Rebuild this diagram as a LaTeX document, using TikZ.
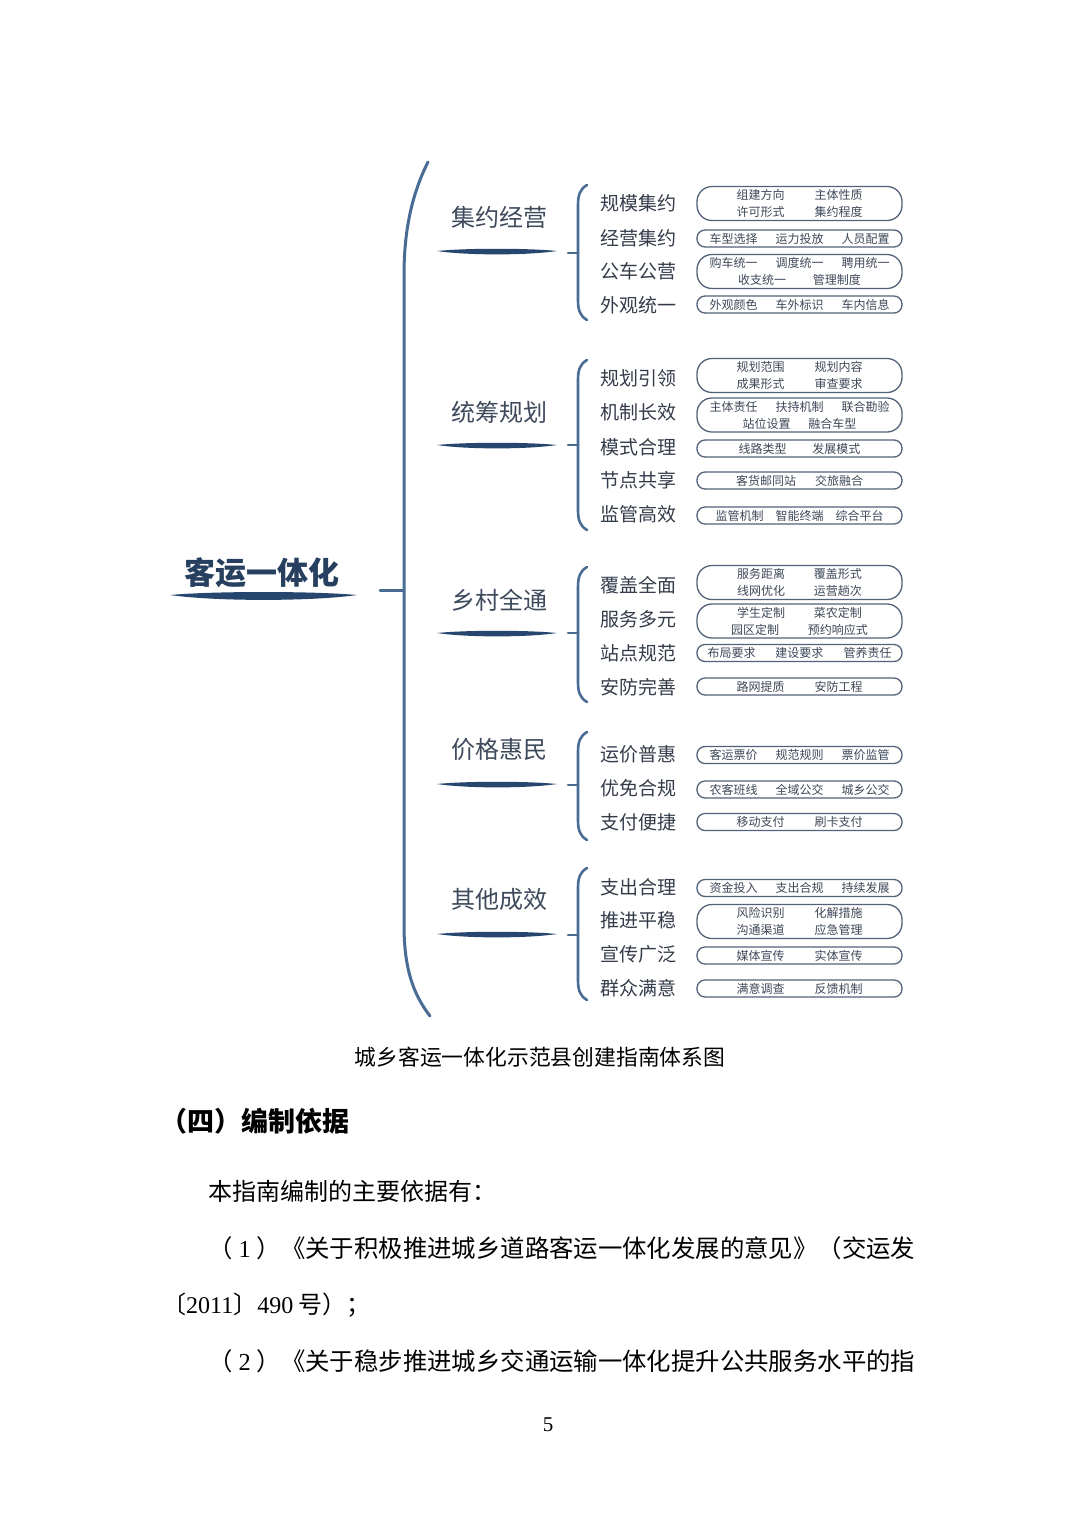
\documentclass[tikz,border=0pt]{standalone}
\usepackage{fontspec}
\setmainfont{Noto Sans CJK SC}
\newfontfamily\lserif{Liberation Serif}
\definecolor{brkc}{RGB}{72,108,148}
\definecolor{lensc}{RGB}{38,70,110}
\definecolor{titlec}{RGB}{40,64,96}
\definecolor{catc}{RGB}{62,74,92}
\definecolor{subc}{RGB}{52,60,74}
\definecolor{pillc}{RGB}{82,98,120}
\definecolor{pilltext}{RGB}{62,72,88}
\newcommand\mylens[3]{\fill[lensc] (#1,#3) .. controls +(30,-3) and +(-30,-3) .. (#2,#3) .. controls +(-30,4.5) and +(30,4.5) .. (#1,#3) -- cycle;}
\newcommand\smallbrk[4]{%
  \draw[brk] (587,#2) .. controls (580,#2+4) and (578,#2+10) .. (578,#2+20) -- (578,#3-20) .. controls (578,#3-10) and (580,#3-4) .. (587,#3);
  \coordinate (#1a) at (568,#4); \coordinate (#1b) at (578,#4);
  \draw[brk] (#1a) -- (#1b);}
\newcommand\pa[3]{\node[pill] (#1) at (799.5,#2) {#3};}
\newcommand\pb[4]{\node[pilltwo] (#1) at (799.5,#2) {#3\\#4};}
\newcommand\dg[1]{\makebox[24pt]{\lserif #1}}
\begin{document}
\begin{tikzpicture}[x=1pt,y=-1pt,
  brk/.style={draw=brkc, line width=2.6pt, line cap=round},
  bigbrk/.style={draw=brkc, line width=3pt, line cap=round},
  pill/.style={draw=pillc, line width=1.3pt, rounded corners=8pt, minimum width=205pt, minimum height=17pt, inner sep=0pt, font=\fontsize{12}{17}\selectfont, text=pilltext, align=center},
  pilltwo/.style={pill, rounded corners=15pt, minimum height=34pt},
  cat/.style={font=\fontsize{24}{24}\selectfont, text=catc, inner sep=0pt},
  sub/.style={font=\fontsize{19}{19}\selectfont, text=subc, inner sep=0pt},
  body/.style={font=\fontsize{24}{24}\selectfont, text=black, inner sep=0pt, anchor=west},
  bodyw/.style={body, font=\fontsize{24.4}{24.4}\selectfont}
]
\useasboundingbox (0,0) rectangle (1080,1527);
\fill[white] (0,0) rectangle (1080,1527);

% root
\node[font=\fontsize{31}{31}\selectfont\bfseries, text=titlec, inner sep=0pt] (root) at (262,573) {客运一体化};
\fill[lensc] (170,595) .. controls +(45,-4) and +(-45,-4) .. (357,595) .. controls +(-45,6.5) and +(45,6.5) .. (170,595) -- cycle;
\coordinate (r0) at (380,590);
\coordinate (r1) at (404,590);
\draw[bigbrk] (r0) -- (r1);
\draw[bigbrk] (428,162) .. controls (414,190) and (404,225) .. (404,275) -- (404,925) .. controls (404,968) and (413,994) .. (430,1016);

% categories
\node[cat] (c1) at (499,217) {集约经营};
\node[cat] (c2) at (499,412) {统筹规划};
\node[cat] (c3) at (499,600) {乡村全通};
\node[cat] (c4) at (499,749) {价格惠民};
\node[cat] (c5) at (499,899) {其他成效};
\mylens{437}{557}{251}
\mylens{437}{557}{445}
\mylens{437}{557}{633}
\mylens{437}{557}{784}
\mylens{437}{557}{934}

% small brackets
\smallbrk{k1}{185}{320}{253}
\smallbrk{k2}{360}{530}{445}
\smallbrk{k3}{567}{702}{633}
\smallbrk{k4}{732}{840}{785}
\smallbrk{k5}{868}{1000}{935}

% group 1
\node[sub] (s11) at (638,203) {规模集约};
\node[sub] (s12) at (638,238) {经营集约};
\node[sub] (s13) at (638,271) {公车公营};
\node[sub] (s14) at (638,305) {外观统一};
\pb{p11}{203.5}{组建方向\hspace{30pt}主体性质}{许可形式\hspace{30pt}集约程度}
\pa{p12}{238.5}{车型选择\hspace{18pt}运力投放\hspace{18pt}人员配置}
\pb{p13}{271.5}{购车统一\hspace{18pt}调度统一\hspace{18pt}聘用统一}{收支统一\hspace{27pt}管理制度}
\pa{p14}{304.5}{外观颜色\hspace{18pt}车外标识\hspace{18pt}车内信息}

% group 2
\node[sub] (s21) at (638,378) {规划引领};
\node[sub] (s22) at (638,412) {机制长效};
\node[sub] (s23) at (638,447) {模式合理};
\node[sub] (s24) at (638,480) {节点共享};
\node[sub] (s25) at (638,514) {监管高效};
\pb{p21}{375.5}{规划范围\hspace{30pt}规划内容}{成果形式\hspace{30pt}审查要求}
\pb{p22}{415}{主体责任\hspace{18pt}扶持机制\hspace{18pt}联合勘验}{站位设置\hspace{18pt}融合车型}
\pa{p23}{448.5}{线路类型\hspace{26pt}发展模式}
\pa{p24}{480.5}{客货邮同站\hspace{19pt}交旅融合}
\pa{p25}{515.5}{监管机制\hspace{12pt}智能终端\hspace{12pt}综合平台}

% group 3
\node[sub] (s31) at (638,585) {覆盖全面};
\node[sub] (s32) at (638,619) {服务多元};
\node[sub] (s33) at (638,653) {站点规范};
\node[sub] (s34) at (638,687) {安防完善};
\pb{p31}{582.5}{服务距离\hspace{29pt}覆盖形式}{线网优化\hspace{29pt}运营趟次}
\pb{p32}{621}{学生定制\hspace{29pt}菜农定制}{园区定制\hspace{29pt}预约响应式}
\pa{p33}{653}{布局要求\hspace{20pt}建设要求\hspace{20pt}管养责任}
\pa{p34}{686.5}{路网提质\hspace{30pt}安防工程}

% group 4
\node[sub] (s41) at (638,754) {运价普惠};
\node[sub] (s42) at (638,788) {优免合规};
\node[sub] (s43) at (638,822) {支付便捷};
\pa{p41}{755}{客运票价\hspace{18pt}规范规则\hspace{18pt}票价监管}
\pa{p42}{789.5}{农客班线\hspace{18pt}全域公交\hspace{18pt}城乡公交}
\pa{p43}{822}{移动支付\hspace{30pt}刷卡支付}

% group 5
\node[sub] (s51) at (638,887) {支出合理};
\node[sub] (s52) at (638,920) {推进平稳};
\node[sub] (s53) at (638,954) {宣传广泛};
\node[sub] (s54) at (638,988) {群众满意};
\pa{p51}{888}{资金投入\hspace{18pt}支出合规\hspace{18pt}持续发展}
\pb{p52}{921.5}{风险识别\hspace{30pt}化解措施}{沟通渠道\hspace{30pt}应急管理}
\pa{p53}{955.5}{媒体宣传\hspace{30pt}实体宣传}
\pa{p54}{988.5}{满意调查\hspace{30pt}反馈机制}

% caption and body text
\node[font=\fontsize{21.8}{21.8}\selectfont, text=black, inner sep=0pt] (cap) at (540,1057) {城乡客运一体化示范县创建指南体系图};
\node[font=\fontsize{27}{27}\selectfont\bfseries, text=black, inner sep=0pt, anchor=west] (head) at (160,1121) {（四）编制依据};
\node[body] (t1) at (208,1191) {本指南编制的主要依据有：};
\node[bodyw] (t2) at (208,1248) {（\dg{1}）《关于积极推进城乡道路客运一体化发展的意见》（交运发};
\node[body] (t3) at (162,1305) {〔{\lserif 2011}〕{\lserif 490} 号）；};
\node[bodyw] (t4) at (208,1361) {（\dg{2}）《关于稳步推进城乡交通运输一体化提升公共服务水平的指};
\node[font=\lserif\fontsize{21}{21}\selectfont, text=black, inner sep=0pt] (pg) at (548,1425) {5};
\end{tikzpicture}
\end{document}
